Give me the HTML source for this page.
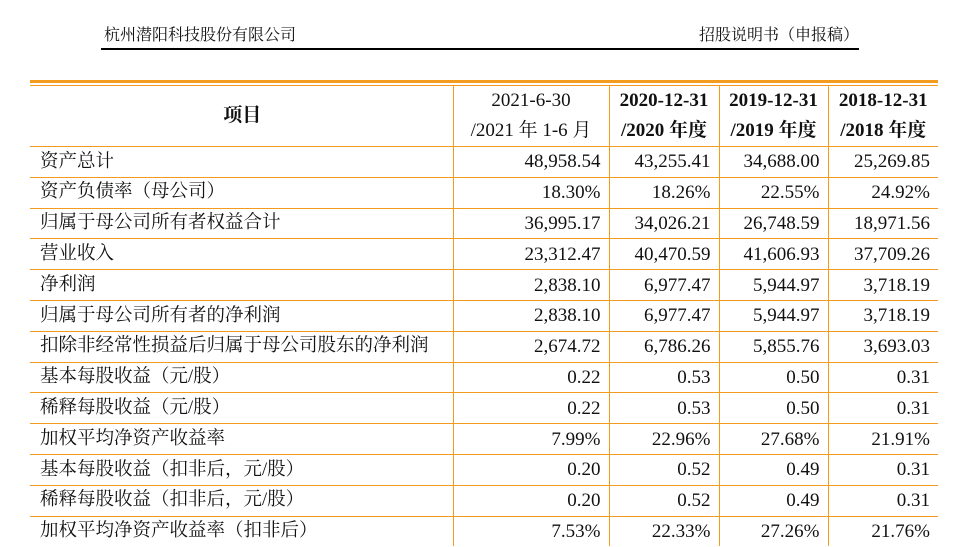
<!DOCTYPE html>
<html><head><meta charset="utf-8"><style>
body{margin:0;width:963px;height:547px;background:#fff;position:relative;overflow:hidden;font-family:"Liberation Serif","Noto Serif CJK SC",serif;color:#111}
.hd{position:absolute;top:26px;font-size:16px;font-family:"Liberation Serif","Noto Serif CJK SC",serif;line-height:20px}
.hl{position:absolute;left:101px;width:758px;top:48px;height:2px;background:#000}
.ot{position:absolute;left:30px;width:908px;top:80px;height:3px;background:#F29B1F}
.ot2{position:absolute;left:30px;width:908px;top:85px;height:1px;background:#F29B1F}
table{position:absolute;left:30px;top:86px;width:908px;border-collapse:collapse;table-layout:fixed}
td{border-top:1px solid #F29B1F;border-left:1px solid #F29B1F;font-size:19px;height:29.8px;padding:0 8px;text-align:right;white-space:nowrap;line-height:1}
td:first-child{border-left:none;text-align:left;padding-left:10px;font-size:18.5px}
tr.h td{height:59px;border-top:none;text-align:center;line-height:30px}
tr.h td.b{font-weight:bold}
</style></head><body>
<div class="hd" style="left:104px">杭州潜阳科技股份有限公司</div>
<div class="hd" style="right:104px">招股说明书（申报稿）</div>
<div class="hl"></div>
<div class="ot"></div>
<div class="ot2"></div>
<table>
<colgroup><col style="width:423px"><col style="width:156px"><col style="width:110px"><col style="width:109px"><col style="width:110px"></colgroup>
<tr class="h"><td class="b" style="text-align:center;font-size:19px">项目</td><td>2021-6-30<br>/2021 年 1-6 月</td><td class="b">2020-12-31<br>/2020 年度</td><td class="b">2019-12-31<br>/2019 年度</td><td class="b">2018-12-31<br>/2018 年度</td></tr>
<tr><td>资产总计</td><td>48,958.54</td><td>43,255.41</td><td>34,688.00</td><td>25,269.85</td></tr>
<tr><td>资产负债率（母公司）</td><td>18.30%</td><td>18.26%</td><td>22.55%</td><td>24.92%</td></tr>
<tr><td>归属于母公司所有者权益合计</td><td>36,995.17</td><td>34,026.21</td><td>26,748.59</td><td>18,971.56</td></tr>
<tr><td>营业收入</td><td>23,312.47</td><td>40,470.59</td><td>41,606.93</td><td>37,709.26</td></tr>
<tr><td>净利润</td><td>2,838.10</td><td>6,977.47</td><td>5,944.97</td><td>3,718.19</td></tr>
<tr><td>归属于母公司所有者的净利润</td><td>2,838.10</td><td>6,977.47</td><td>5,944.97</td><td>3,718.19</td></tr>
<tr><td>扣除非经常性损益后归属于母公司股东的净利润</td><td>2,674.72</td><td>6,786.26</td><td>5,855.76</td><td>3,693.03</td></tr>
<tr><td>基本每股收益（元/股）</td><td>0.22</td><td>0.53</td><td>0.50</td><td>0.31</td></tr>
<tr><td>稀释每股收益（元/股）</td><td>0.22</td><td>0.53</td><td>0.50</td><td>0.31</td></tr>
<tr><td>加权平均净资产收益率</td><td>7.99%</td><td>22.96%</td><td>27.68%</td><td>21.91%</td></tr>
<tr><td>基本每股收益（扣非后，元/股）</td><td>0.20</td><td>0.52</td><td>0.49</td><td>0.31</td></tr>
<tr><td>稀释每股收益（扣非后，元/股）</td><td>0.20</td><td>0.52</td><td>0.49</td><td>0.31</td></tr>
<tr><td>加权平均净资产收益率（扣非后）</td><td>7.53%</td><td>22.33%</td><td>27.26%</td><td>21.76%</td></tr>
</table>
</body></html>
